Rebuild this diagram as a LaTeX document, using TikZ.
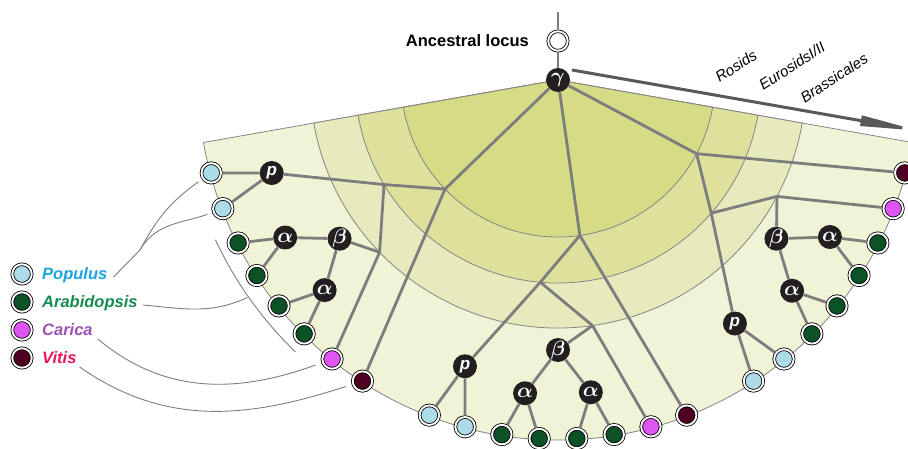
\documentclass[tikz,border=0pt]{standalone}
\usepackage{fontspec}
\setmainfont{Liberation Sans}
\usepackage{amsmath,bm}
\usetikzlibrary{arrows.meta}
\usetikzlibrary{positioning}

\definecolor{bandA}{HTML}{D6DB85}
\definecolor{bandB}{HTML}{DEE19C}
\definecolor{bandC}{HTML}{E7EABD}
\definecolor{bandD}{HTML}{F1F3D7}
\definecolor{rim}{HTML}{858585}
\definecolor{twig}{HTML}{7D7D7D}
\definecolor{evblack}{HTML}{231F20}
\definecolor{pop}{HTML}{ABDCE8}
\definecolor{arab}{HTML}{0B5226}
\definecolor{car}{HTML}{DD55F2}
\definecolor{vit}{HTML}{4F0022}
\definecolor{popText}{HTML}{1BA4E0}
\definecolor{arabText}{HTML}{148C4F}
\definecolor{carText}{HTML}{9B52B8}
\definecolor{vitText}{HTML}{E6175F}

\tikzset{
  leaf/.style={circle, draw=black, line width=.8pt, double=white, double distance=1.9pt,
    fill=#1, minimum size=19.5pt, inner sep=0pt, outer sep=1.75pt},
  event/.style={circle, fill=evblack, minimum size=24pt, inner sep=0pt, text=white,
    font=\fontsize{17}{17}\selectfont\bfseries\itshape},
  greek/.style={event, font=\fontsize{21}{21}\selectfont},
  branch/.style={draw=twig, line width=2.8pt, line join=round},
  keyline/.style={draw=twig, line width=.9pt},
  keytext/.style={font=\fontsize{16.5}{18}\selectfont\bfseries\itshape,
    inner sep=0pt, text height=11.8pt, text depth=0pt},
  clade/.style={font=\fontsize{15}{16}\selectfont\itshape, rotate=33, inner sep=0pt},
  timeline/.style={draw=black!65, line width=3pt, -{Triangle[length=60pt, width=10pt]}}
}

\begin{document}
\begin{tikzpicture}[x=1pt, y=1pt]
  \useasboundingbox (0,0) rectangle (908,448);

  \begin{scope}[shift={(558,368)}]
    % Time bands of the fan
    \foreach \rad/\col in {360/bandD, 248/bandC, 203/bandB, 157/bandA}
      \filldraw[fill=\col, draw=rim, line width=.8pt] (0,0) -- (-170:\rad)
        arc[start angle=-170, end angle=-10, radius=\rad] -- cycle;

    % Root
    \node[greek] (gamma) at (0,0) {$\bm\gamma$};
    \node[leaf=white] (locus) at (0,39) {};
    \coordinate (rootTop) at (0,68);
    \draw[branch] (rootTop) -- (locus);
    \draw[branch] (locus) -- (gamma);
    \node[font=\fontsize{16.5}{18}\selectfont\bfseries, inner sep=0pt,
      left=17.5pt of locus] (ancTxt) {Ancestral locus};

    % Time arrow
    \coordinate (timeS) at (14,10);
    \coordinate (timeE) at (362,-51);
    \draw[timeline] (timeS) -- (timeE);
    \node[clade] (rosTxt) at (178,14) {Rosids};
    \node[clade] (eurTxt) at (234,14) {EurosidsI/II};
    \node[clade] (braTxt) at (276,2) {Brassicales};

    % The same gene tree three times
    \foreach \g/\rot in {L/0, M/54, R/108} {
      \foreach \i/\c in {1/pop, 2/pop, 3/arab, 4/arab, 5/arab, 6/arab, 7/car, 8/vit}
        \node[leaf=\c] (leaf\i\g) at (-171+6*\i+\rot:359) {};
      \node[event] (p\g)  at (-162+\rot:301) {p};
      \node[greek] (aa\g) at (-150+\rot:315) {$\bm\alpha$};
      \node[greek] (b\g)  at (-144+\rot:270) {$\bm\beta$};
      \node[greek] (ab\g) at (-138+\rot:314) {$\bm\alpha$};
      \coordinate (s1\g) at (-136+\rot:157);
      \coordinate (s2\g) at (-149+\rot:203);
      \coordinate (s3\g) at (-136+\rot:248);

      \draw[branch] (gamma) -- (s1\g) -- (leaf8\g);
      \draw[branch] (s1\g) -- (s2\g) -- (p\g);
      \draw[branch] (s2\g) -- (s3\g) -- (b\g);
      \draw[branch] (s3\g) -- (leaf7\g);
      \draw[branch] (p\g) -- (leaf1\g);
      \draw[branch] (p\g) -- (leaf2\g);
      \draw[branch] (b\g) -- (aa\g);
      \draw[branch] (b\g) -- (ab\g);
      \draw[branch] (aa\g) -- (leaf3\g);
      \draw[branch] (aa\g) -- (leaf4\g);
      \draw[branch] (ab\g) -- (leaf5\g);
      \draw[branch] (ab\g) -- (leaf6\g);
    }

    % Bracket over the Arabidopsis copies
    \draw[keyline] (-155:378) arc[start angle=-155, end angle=-134, radius=378];
    \coordinate (arabBr) at (-145:379);
  \end{scope}

  % Legend
  \node[leaf=pop] (popKey) at (22,174) {};
  \node[leaf=arab, below=5pt of popKey] (arabKey) {};
  \node[leaf=car, below=5pt of arabKey] (carKey) {};
  \node[leaf=vit, below=5pt of carKey] (vitKey) {};
  \node[keytext, text=popText, right=8.5pt of popKey] (popTxt) {Populus};
  \node[keytext, text=arabText, right=8.5pt of arabKey] (arabTxt) {Arabidopsis};
  \node[keytext, text=carText, right=8.5pt of carKey] (carTxt) {Carica};
  \node[keytext, text=vitText, right=8.5pt of vitKey] (vitTxt) {Vitis};

  \coordinate (popFork) at (140,198);
  \draw[keyline] ([shift={(6pt,-3pt)}]popTxt.east) -- (popFork);
  \draw[keyline, shorten >=4pt] (popFork) to[out=62, in=215] (leaf1L);
  \draw[keyline, shorten >=5pt] (popFork) to[out=60, in=200] (leaf2L);
  \draw[keyline] ([shift={(5pt,-3pt)}]arabTxt.east) to[out=-5, in=205] (arabBr);
  \draw[keyline, shorten >=6pt] ([shift={(5pt,-9pt)}]carTxt.east) to[out=-40, in=200] (leaf7L);
  \draw[keyline, shorten >=6pt] ([shift={(3pt,-9pt)}]vitTxt.east) to[out=-35, in=198] (leaf8L);
\end{tikzpicture}
\end{document}
